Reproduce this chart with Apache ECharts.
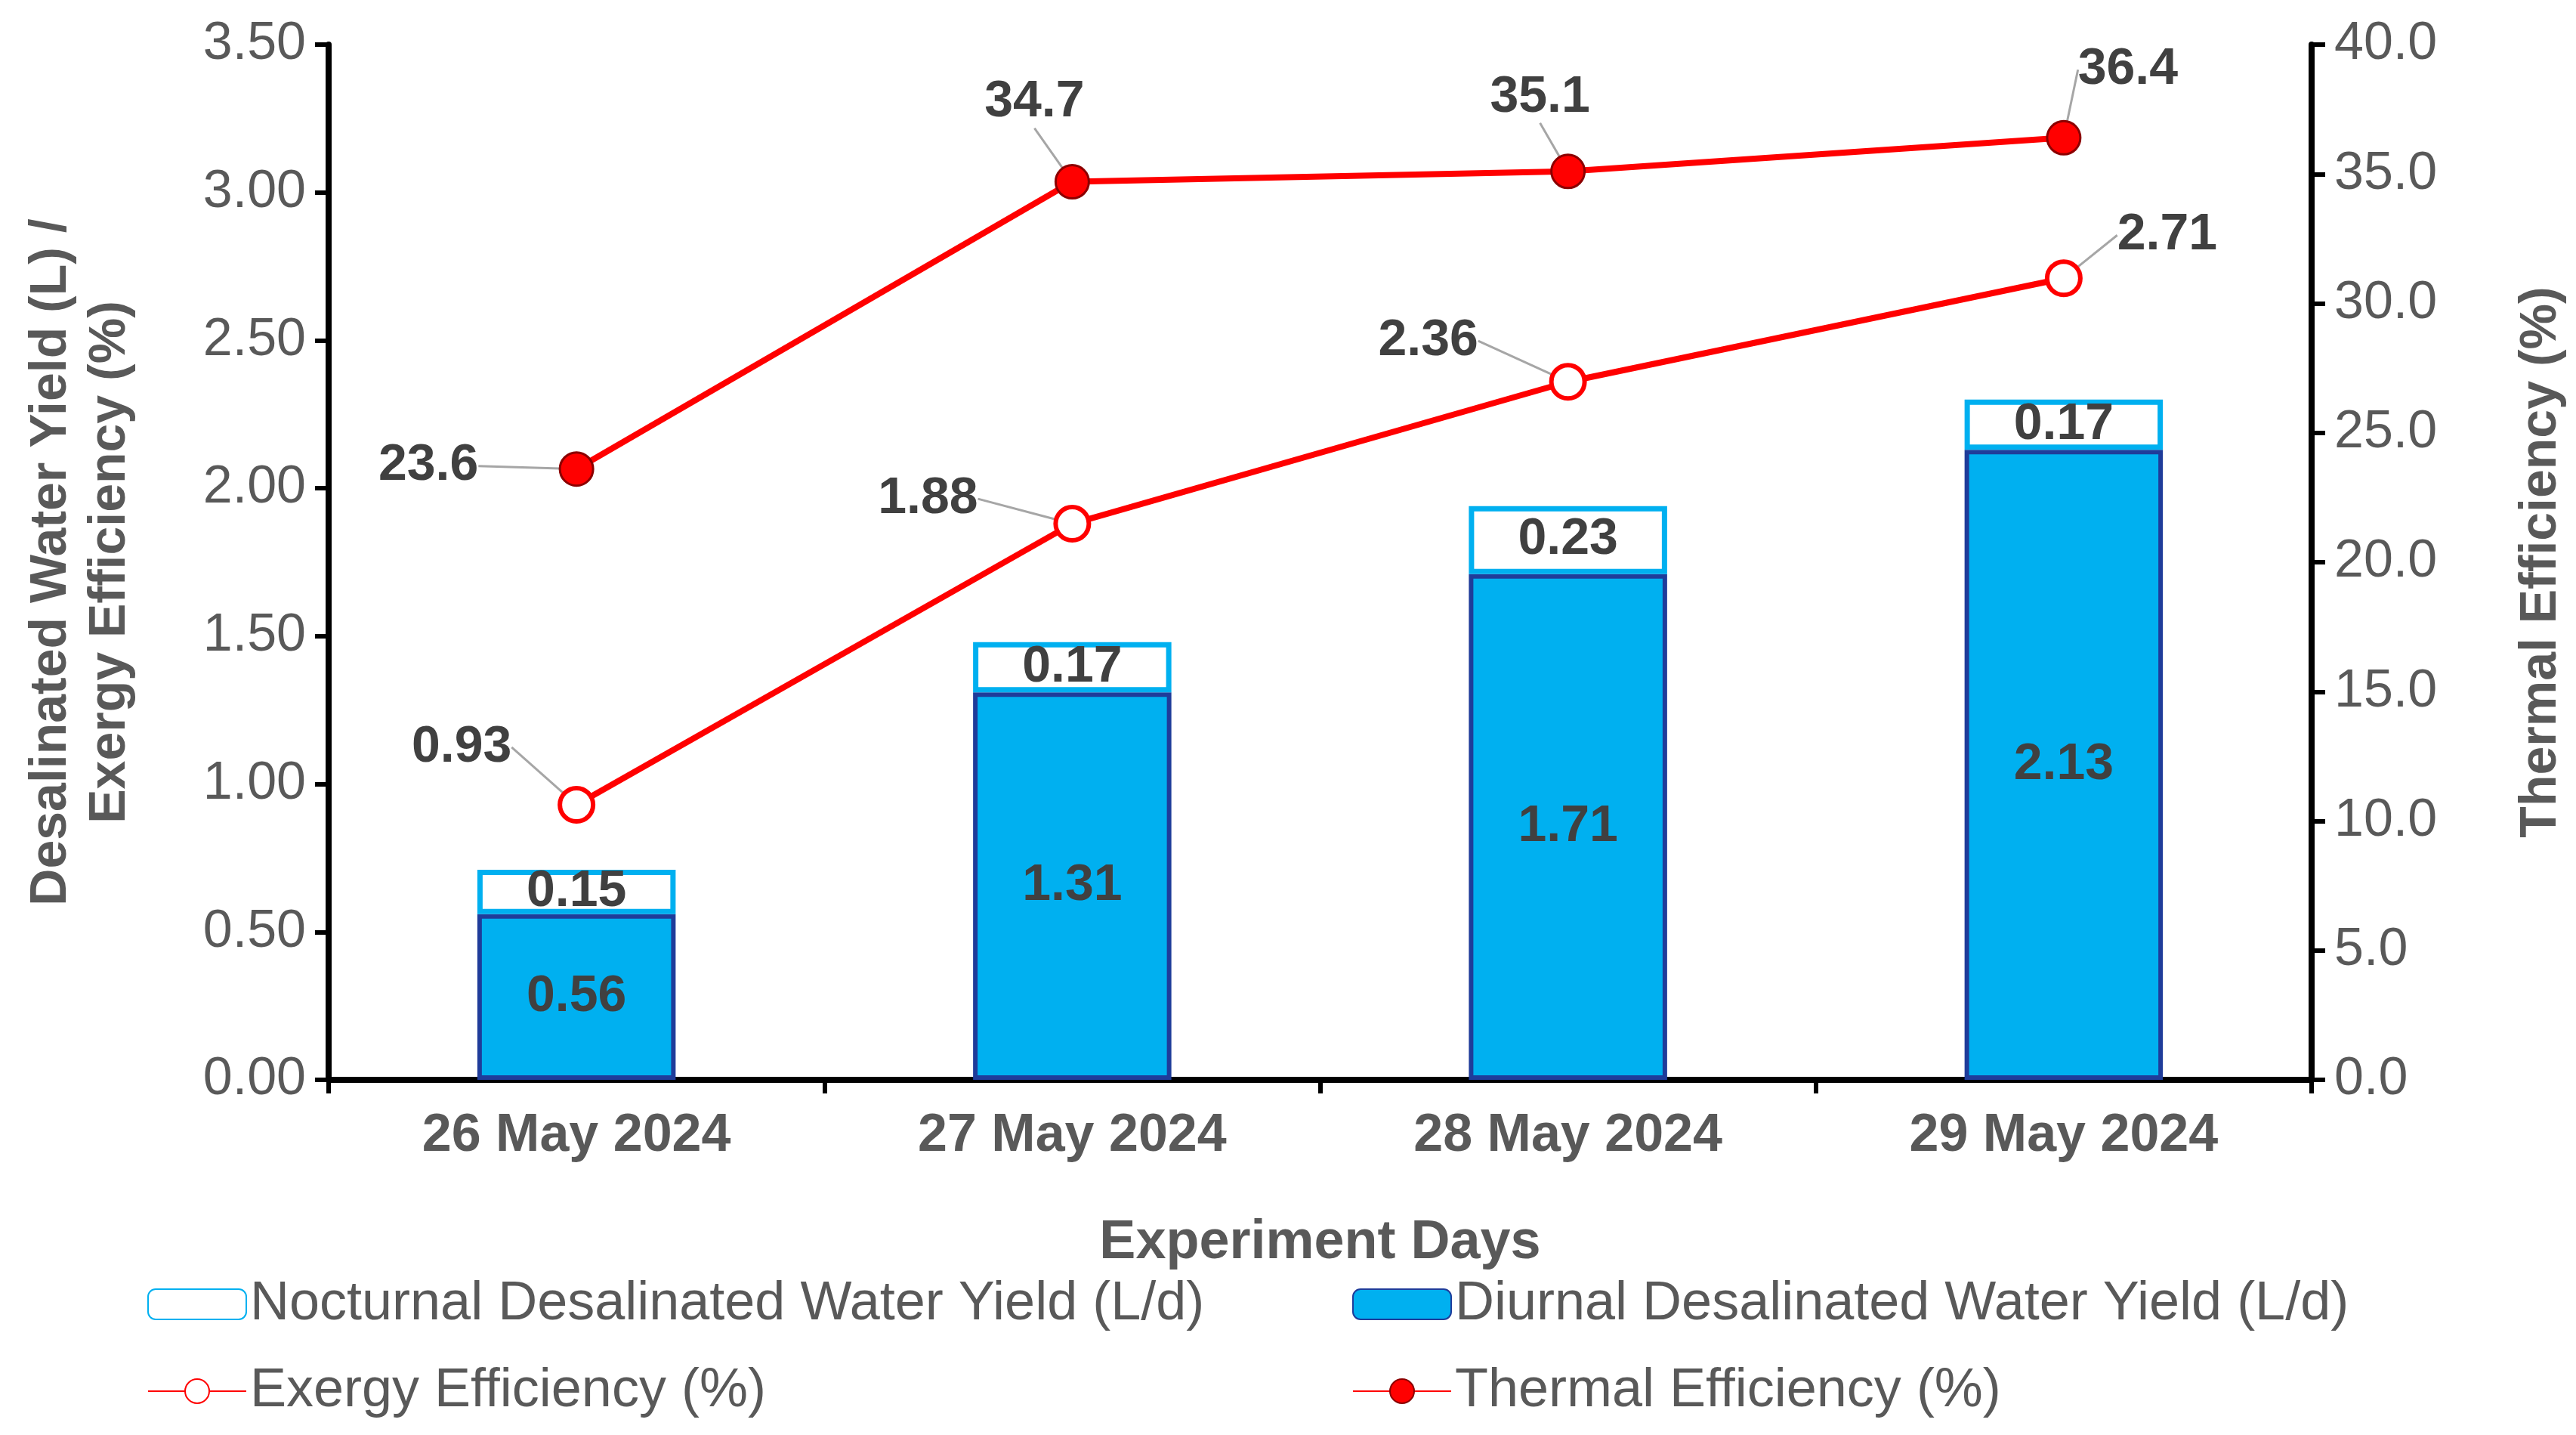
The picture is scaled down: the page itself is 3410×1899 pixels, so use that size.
<!DOCTYPE html><html><head><meta charset="utf-8">
<script src="https://cdn.jsdelivr.net/npm/echarts@6/dist/echarts.min.js"></script>
<style>html,body{margin:0;background:#fff}#c{width:3410px;height:1899px}</style></head><body><div id="c"></div>
<script>
const categories=['26 May 2024','27 May 2024','28 May 2024','29 May 2024'];
const diurnal=[0.56,1.31,1.71,2.13];
const nocturnal=[0.15,0.17,0.23,0.17];
const exergy=[0.93,1.88,2.36,2.71];
const thermal=[23.6,34.7,35.1,36.4];
const exergyLabelOffsets=[[-152,-76],[-191,-33],[-185,-54],[137,-57]];
const thermalLabelOffsets=[[-196,-4],[-50,-105],[-37,-98],[85,-90]];
const F='Liberation Sans, Arial, sans-serif';
const gray='#595959';
const chart=echarts.init(document.getElementById('c'));
const axisCommon={axisLine:{show:true,lineStyle:{color:'#000',width:8}},axisTick:{show:true,length:18,lineStyle:{color:'#000',width:6}},splitLine:{show:false},
 axisLabel:{fontFamily:F,fontSize:70,color:gray,margin:30},nameTextStyle:{fontFamily:F,fontSize:68,fontWeight:'bold',color:gray}};
function lbl(off){return function(p){return {dx:off[p.dataIndex][0],dy:off[p.dataIndex][1]};};}
const legendBase={textStyle:{fontFamily:F,fontSize:72,color:gray},itemGap:10};
chart.setOption({
 animation:false,
 grid:{left:435,right:350,top:59,bottom:470},
 xAxis:{type:'category',data:categories,axisLine:{lineStyle:{color:'#000',width:8}},axisTick:{show:true,length:18,lineStyle:{color:'#000',width:6}},
   axisLabel:{fontFamily:F,fontSize:70,fontWeight:'bold',color:gray,margin:40},
   name:'Experiment Days',nameLocation:'middle',nameGap:180,nameTextStyle:{fontFamily:F,fontSize:72,fontWeight:'bold',color:gray}},
 yAxis:[Object.assign({},axisCommon,{type:'value',min:0,max:3.5,interval:0.5,axisLabel:Object.assign({},axisCommon.axisLabel,{formatter:v=>v.toFixed(2)}),
   name:'Desalinated Water Yield (L) /\nExergy Efficiency (%)',nameLocation:'middle',nameGap:250,nameTextStyle:Object.assign({},axisCommon.nameTextStyle,{lineHeight:78})}),
  Object.assign({},axisCommon,{type:'value',min:0,max:40,interval:5,axisLabel:Object.assign({},axisCommon.axisLabel,{formatter:v=>v.toFixed(1)}),
   name:'Thermal Efficiency (%)',nameLocation:'middle',nameGap:270,nameRotate:90})],
 legend:[
  Object.assign({},legendBase,{left:190,top:1685,itemWidth:130,itemHeight:40,data:['Nocturnal Desalinated Water Yield (L/d)']}),
  Object.assign({},legendBase,{left:1785,top:1685,itemWidth:130,itemHeight:40,data:['Diurnal Desalinated Water Yield (L/d)']}),
  Object.assign({},legendBase,{left:190,top:1800,itemWidth:130,itemHeight:40,data:['Exergy Efficiency (%)']}),
  Object.assign({},legendBase,{left:1785,top:1800,itemWidth:130,itemHeight:40,data:['Thermal Efficiency (%)']})],
 series:[
  {name:'Diurnal Desalinated Water Yield (L/d)',type:'bar',stack:'y',data:diurnal,barWidth:'40%',
   itemStyle:{color:'#00B0F0',borderColor:'#1F3C9A',borderWidth:6},
   label:{show:true,position:'inside',fontFamily:F,fontSize:68,fontWeight:'bold',color:'#404040'}},
  {name:'Nocturnal Desalinated Water Yield (L/d)',type:'bar',stack:'y',data:nocturnal,barWidth:'40%',
   itemStyle:{color:'#fff',borderColor:'#00B0F0',borderWidth:7},
   label:{show:true,position:'inside',fontFamily:F,fontSize:68,fontWeight:'bold',color:'#404040'}},
  {name:'Exergy Efficiency (%)',type:'line',data:exergy,symbol:'circle',symbolSize:44,z:5,
   lineStyle:{color:'#FF0000',width:8},itemStyle:{color:'#fff',borderColor:'#FF0000',borderWidth:6},
   label:{show:true,position:'inside',fontFamily:F,fontSize:68,fontWeight:'bold',color:'#404040',formatter:p=>p.value.toFixed(2)},
   labelLine:{show:true,lineStyle:{color:'#A6A6A6',width:3}},labelLayout:lbl(exergyLabelOffsets)},
  {name:'Thermal Efficiency (%)',type:'line',yAxisIndex:1,data:thermal,symbol:'circle',symbolSize:44,z:5,
   lineStyle:{color:'#FF0000',width:8},itemStyle:{color:'#FF0000',borderColor:'#8B0000',borderWidth:3},
   label:{show:true,position:'inside',fontFamily:F,fontSize:68,fontWeight:'bold',color:'#404040',formatter:p=>p.value.toFixed(1)},
   labelLine:{show:true,lineStyle:{color:'#A6A6A6',width:3}},labelLayout:lbl(thermalLabelOffsets)}
 ]
});
</script></body></html>
